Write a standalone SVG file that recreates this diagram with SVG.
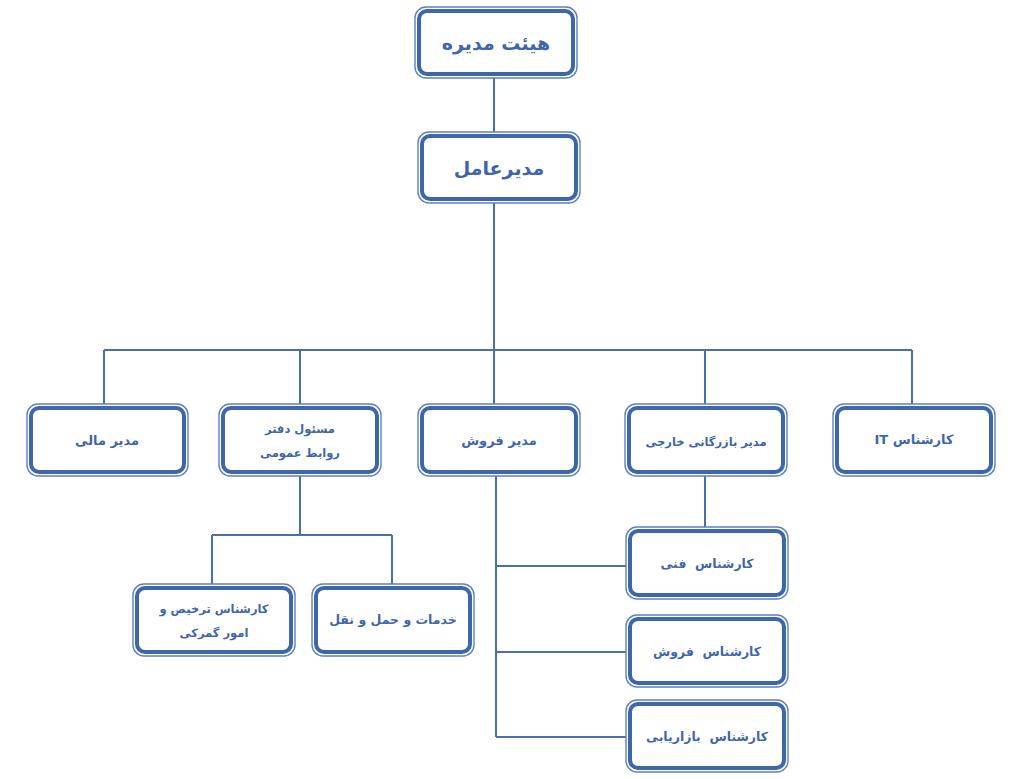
<svg xmlns="http://www.w3.org/2000/svg" width="1024" height="779" viewBox="0 0 1024 779">
<style>
.o{fill:#fff;stroke:#5c80bf;stroke-width:1.4}
.i{fill:none;stroke:#3d67aa;stroke-width:4}
.c{fill:none;stroke:#4a70aa;stroke-width:2}
text{font-family:"DejaVu Sans",sans-serif;font-weight:bold;fill:#3f66ab;text-anchor:middle;direction:rtl;unicode-bidi:embed;white-space:pre}
.l{font-size:19px}.m{font-size:13px}.s{font-size:11.5px}.t{font-size:12.5px}
</style>
<rect width="1024" height="779" fill="#fff"/>
<g id="connectors">
<path class="c" d="M494 77V132M494 203V350M104 350H912M104 350V405M300 350V405M494 350V405M705 350V405M912 350V405"/>
<path class="c" d="M300 475V535M212 535H392M212 535V585M392 535V585"/>
<path class="c" d="M496 475V737M496 566H627M496 652H627M496 737H627M705 475V528"/>
</g>
<g id="n1"><rect class="o" x="415" y="7" width="162" height="71" rx="11"/><rect class="i" x="419" y="11" width="154" height="63" rx="8"/><text class="l" x="496" y="50">هیئت مدیره</text></g>
<g id="n2"><rect class="o" x="418" y="132" width="162" height="71" rx="11"/><rect class="i" x="422" y="136" width="154" height="63" rx="8"/><text class="l" x="499" y="175">مدیرعامل</text></g>
<g id="n3"><rect class="o" x="27" y="404" width="161" height="72" rx="11"/><rect class="i" x="31" y="408" width="153" height="64" rx="8"/><text class="m" x="107" y="445">مدیر مالی</text></g>
<g id="n4"><rect class="o" x="219" y="404" width="162" height="72" rx="11"/><rect class="i" x="223" y="408" width="154" height="64" rx="8"/><text class="s" x="300" y="433">مسئول دفتر</text><text class="s" x="300" y="457">روابط عمومی</text></g>
<g id="n5"><rect class="o" x="418" y="404" width="162" height="72" rx="11"/><rect class="i" x="422" y="408" width="154" height="64" rx="8"/><text class="m" x="499" y="445">مدیر فروش</text></g>
<g id="n6"><rect class="o" x="625" y="404" width="162" height="72" rx="11"/><rect class="i" x="629" y="408" width="154" height="64" rx="8"/><text class="s" x="706" y="446">مدیر بازرگانی خارجی</text></g>
<g id="n7"><rect class="o" x="833" y="404" width="162" height="72" rx="11"/><rect class="i" x="837" y="408" width="154" height="64" rx="8"/><text class="m" x="914" y="444">کارشناس IT</text></g>
<g id="n8"><rect class="o" x="133" y="584" width="162" height="72" rx="11"/><rect class="i" x="137" y="588" width="154" height="64" rx="8"/><text class="s" x="214" y="613">کارشناس ترخیص و</text><text class="s" x="214" y="637">امور گمرکی</text></g>
<g id="n9"><rect class="o" x="312" y="584" width="162" height="72" rx="11"/><rect class="i" x="316" y="588" width="154" height="64" rx="8"/><text class="t" x="393" y="624">خدمات و حمل و نقل</text></g>
<g id="n10"><rect class="o" x="626" y="527" width="162" height="72" rx="11"/><rect class="i" x="630" y="531" width="154" height="64" rx="8"/><text class="t" x="707" y="568">کارشناس  فنی</text></g>
<g id="n11"><rect class="o" x="626" y="615" width="162" height="72" rx="11"/><rect class="i" x="630" y="619" width="154" height="64" rx="8"/><text class="t" x="707" y="656">کارشناس  فروش</text></g>
<g id="n12"><rect class="o" x="626" y="700" width="162" height="72" rx="11"/><rect class="i" x="630" y="704" width="154" height="64" rx="8"/><text class="t" x="707" y="741">کارشناس  بازاریابی</text></g>
</svg>
